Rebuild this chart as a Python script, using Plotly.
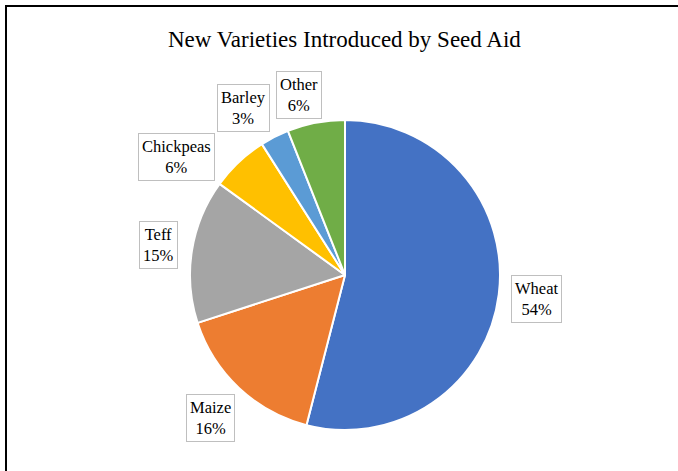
import math
import plotly.graph_objects as go

labels = ["Wheat", "Maize", "Teff", "Chickpeas", "Barley", "Other"]
values = [54, 16, 15, 6, 3, 6]
colors = ["#4472C4", "#ED7D31", "#A5A5A5", "#FFC000", "#5B9BD5", "#70AD47"]
title_text = "New Varieties Introduced by Seed Aid"

# label placement style (radial factor, angular shift in degrees)
label_k = [1.245, 1.27, 1.22, 1.33, 1.26, 1.20]
label_shift = [0, 0, 0, -11.8, -4.4, -3.5]

W, H = 678, 471
cx, cy, r = 345, 275, 155
font_family = "Liberation Serif, Times New Roman, serif"

fig = go.Figure(go.Pie(
    labels=labels, values=values, sort=False, direction="clockwise", rotation=0,
    marker=dict(colors=colors, line=dict(color="white", width=2)),
    textinfo="none", hoverinfo="label+percent", showlegend=False,
    domain=dict(x=[(cx - r) / W, (cx + r) / W], y=[1 - (cy + r) / H, 1 - (cy - r) / H]),
))

total = sum(values)
cum = 0
annotations = []
for lab, v, k, sh in zip(labels, values, label_k, label_shift):
    mid = (cum + v / 2) / total * 2 * math.pi + math.radians(sh)
    cum += v
    px = cx + k * r * math.sin(mid)
    py = cy - k * r * math.cos(mid)
    pct = round(v / total * 100)
    annotations.append(dict(
        x=px / W, y=1 - py / H, xref="paper", yref="paper",
        text=f"{lab}<br>{pct}%", showarrow=False, xanchor="center", yanchor="middle",
        font=dict(family=font_family, size=16.5, color="#000000"),
        bordercolor="#BFBFBF", borderwidth=1, borderpad=3, bgcolor="white", align="center",
    ))

annotations.append(dict(
    x=344 / W, y=1 - 40 / H, xref="paper", yref="paper", text=title_text, showarrow=False,
    xanchor="center", yanchor="middle",
    font=dict(family=font_family, size=23, color="#000000"),
))

fig.update_layout(
    width=W, height=H, margin=dict(l=0, r=0, t=0, b=0),
    paper_bgcolor="white", plot_bgcolor="white",
    annotations=annotations,
    shapes=[dict(type="rect", xref="paper", yref="paper",
                 x0=6 / W, x1=1.05, y0=-0.05, y1=1 - 6 / H,
                 line=dict(color="black", width=2))],
)
fig.write_html("out.html")
